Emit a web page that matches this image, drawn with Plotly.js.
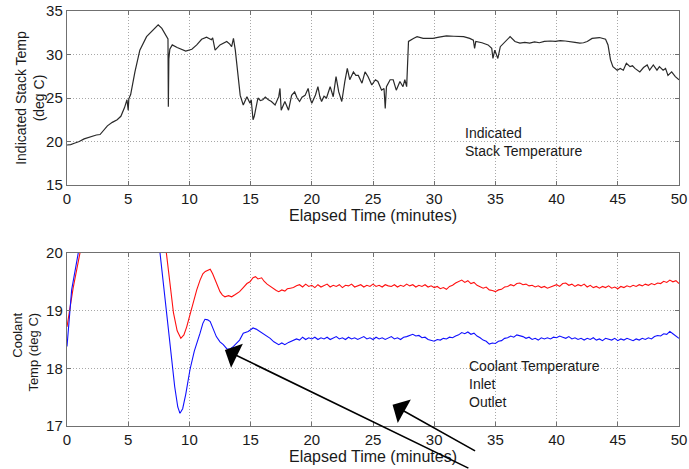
<!DOCTYPE html>
<html>
<head>
<meta charset="utf-8">
<script src="https://cdn.plot.ly/plotly-3.0.1.min.js"></script>
<style>html,body{margin:0;padding:0;background:#fff;}#chart{width:689px;height:469px;}</style>
</head>
<body>
<div id="chart"></div>
<script>
// ---- Top panel: indicated stack temperature ----
const stackTime = [0,0.3,0.6,1.0,1.4,1.9,2.4,2.7,3.0,3.3,3.7,4.1,4.4,4.7,4.9,5.0,5.05,5.2,5.55,5.95,6.5,7.05,7.45,7.75,8.15,8.25,8.28,8.32,8.4,8.6,9.0,9.3,9.7,10.2,10.6,11.0,11.4,11.8,11.9,12.1,12.5,13.05,13.3,13.45,13.6,13.75,14.0,14.15,14.4,14.7,14.95,15.05,15.2,15.3,15.6,15.8,16.0,16.2,16.45,16.7,17.0,17.3,17.4,17.5,17.8,18.1,18.35,18.6,18.8,19.0,19.2,19.45,19.7,19.85,20.0,20.3,20.5,20.65,20.8,21.0,21.2,21.5,21.75,21.98,22.2,22.45,22.7,22.9,23.1,23.4,23.6,23.8,24.1,24.35,24.6,24.9,25.2,25.4,25.7,25.9,26.0,26.1,26.4,26.65,26.9,27.2,27.45,27.6,27.75,27.9,28.3,28.6,29.1,29.65,29.9,30.4,31.0,31.6,32.4,32.9,33.2,33.3,33.4,33.9,34.4,34.7,34.8,34.95,35.2,35.4,35.8,36.2,36.6,37.0,37.4,37.8,38.2,38.6,39.0,39.5,39.9,40.3,40.7,41.1,41.5,41.9,42.2,42.5,42.9,43.5,44.0,44.2,44.4,44.6,44.95,45.2,45.45,45.7,46.0,46.2,46.4,46.8,47.1,47.4,47.6,47.9,48.2,48.4,48.7,48.9,49.1,49.4,49.7,50.0];
const stackTemp = [19.6,19.65,19.8,20.0,20.3,20.55,20.75,20.8,21.3,21.8,22.2,22.5,22.9,23.9,24.8,23.6,24.9,25.4,28.0,30.5,32.05,32.8,33.4,33.0,31.9,31.8,24.0,29.5,30.6,31.1,30.8,30.6,30.4,30.6,31.1,31.75,32.0,31.7,31.9,30.5,31.1,31.5,31.2,30.9,31.85,30.5,27.1,25.3,24.2,25.15,24.4,24.8,22.5,22.9,25.0,24.7,24.8,25.1,24.8,24.6,24.2,25.15,26.1,23.6,24.6,23.6,25.3,25.7,25.0,24.6,25.1,25.3,26.1,25.0,24.4,25.35,26.3,25.2,24.6,25.2,25.0,26.3,25.15,27.45,25.7,24.6,26.9,28.4,27.1,28.0,27.6,27.6,26.7,28.0,27.45,26.5,27.1,26.9,25.9,26.1,23.8,26.3,27.1,27.1,25.9,26.9,26.3,27.1,26.3,31.5,31.85,32.05,31.85,31.85,31.85,32.0,32.15,32.1,32.05,31.85,31.65,30.7,31.5,31.35,31.1,30.7,29.55,30.5,29.55,30.9,31.5,32.05,31.5,31.3,31.4,31.3,31.45,31.35,31.5,31.55,31.5,31.6,31.55,31.5,31.4,31.3,31.35,31.5,31.85,31.95,31.75,31.1,29.4,28.6,28.2,28.4,28.2,29.0,28.6,28.7,28.4,28.0,28.5,28.8,28.2,28.8,28.2,28.6,28.2,28.4,27.6,28.0,27.45,27.1];

// ---- Bottom panel: coolant temperatures ----
const steadyTime = [18.5,18.75,19,19.25,19.5,19.75,20,20.25,20.5,20.75,21,21.25,21.5,21.75,22,22.25,22.5,22.75,23,23.25,23.5,23.75,24,24.25,24.5,24.75,25,25.25,25.5,25.75,26,26.25,26.5,26.75,27,27.25,27.5,27.75,28,28.25,28.5,28.75,29,29.25,29.5,29.75,30,30.25,30.5,30.75,31,31.25,31.5,31.75,32,32.25,32.5,32.75,33,33.25,33.5,33.75,34,34.25,34.5,34.75,35,35.25,35.5,35.75,36,36.25,36.5,36.75,37,37.25,37.5,37.75,38,38.25,38.5,38.75,39,39.25,39.5,39.75,40,40.25,40.5,40.75,41,41.25,41.5,41.75,42,42.25,42.5,42.75,43,43.25,43.5,43.75,44,44.25,44.5,44.75,45,45.25,45.5,45.75,46,46.25,46.5,46.75,47,47.25,47.5,47.75,48,48.25,48.5,48.75,49,49.25,49.5,49.75,50];

const redEarlyTime = [0,0.5,1.06,1.5,2.5,7.0,7.8,8.14,8.4,8.7,9.0,9.3,9.55,9.78,10.05,10.3,10.6,10.87,11.1,11.3,11.5,11.7,11.9,12.1,12.3,12.5,12.7,12.9,13.2,13.45,13.75,14.1,14.4,14.7,14.95,15.2,15.4,15.6,15.9,16.1,16.35,16.6,16.85,17.1,17.3,17.55,17.8,18.0,18.25];
const redEarlyTemp = [18.72,19.39,20.0,20.6,22.0,22.0,20.6,20.0,19.52,18.96,18.65,18.52,18.58,18.72,18.93,19.13,19.36,19.53,19.64,19.68,19.70,19.72,19.64,19.53,19.42,19.33,19.27,19.24,19.26,19.24,19.28,19.33,19.40,19.47,19.50,19.57,19.59,19.55,19.57,19.51,19.46,19.42,19.38,19.35,19.33,19.36,19.34,19.38,19.39];
const redSteadyTemp = [19.40,19.43,19.45,19.41,19.46,19.42,19.44,19.40,19.45,19.41,19.44,19.46,19.41,19.44,19.42,19.45,19.40,19.44,19.43,19.46,19.41,19.43,19.45,19.41,19.44,19.42,19.46,19.42,19.44,19.41,19.45,19.43,19.42,19.45,19.41,19.44,19.42,19.46,19.43,19.45,19.41,19.44,19.42,19.45,19.41,19.43,19.40,19.42,19.38,19.40,19.37,19.42,19.44,19.48,19.50,19.53,19.49,19.52,19.47,19.49,19.44,19.42,19.39,19.41,19.36,19.35,19.33,19.36,19.37,19.41,19.42,19.45,19.43,19.47,19.48,19.45,19.46,19.43,19.44,19.41,19.43,19.40,19.42,19.39,19.41,19.43,19.45,19.42,19.47,19.48,19.44,19.46,19.42,19.45,19.43,19.46,19.41,19.44,19.40,19.42,19.39,19.42,19.40,19.43,19.39,19.41,19.38,19.42,19.40,19.43,19.41,19.44,19.42,19.45,19.43,19.46,19.44,19.47,19.45,19.48,19.47,19.51,19.49,19.53,19.50,19.52,19.47];

const blueEarlyTime = [0,0.38,0.92,1.3,2.5,6.5,7.3,7.6,7.9,8.2,8.5,8.8,9.05,9.23,9.45,9.7,10.05,10.4,10.87,11.1,11.27,11.5,11.7,11.95,12.2,12.5,12.77,13.05,13.3,13.6,13.86,14.1,14.4,14.8,15.0,15.2,15.45,15.75,16.0,16.3,16.6,16.9,17.1,17.3,17.55,17.8,18.1,18.35];
const blueEarlyTemp = [18.38,19.36,20.0,20.6,22.0,22.0,20.6,20.0,19.42,18.84,18.26,17.68,17.33,17.22,17.3,17.55,17.98,18.3,18.61,18.78,18.85,18.84,18.81,18.68,18.55,18.46,18.41,18.34,18.33,18.38,18.44,18.49,18.61,18.64,18.67,18.70,18.68,18.64,18.60,18.56,18.52,18.46,18.43,18.41,18.44,18.41,18.45,18.47];
const blueSteadyTemp = [18.48,18.51,18.49,18.54,18.50,18.53,18.51,18.54,18.50,18.53,18.51,18.54,18.50,18.52,18.55,18.51,18.53,18.50,18.54,18.51,18.53,18.50,18.52,18.55,18.51,18.53,18.50,18.54,18.51,18.53,18.50,18.52,18.55,18.51,18.53,18.50,18.54,18.55,18.57,18.59,18.56,18.57,18.53,18.54,18.50,18.49,18.47,18.50,18.49,18.52,18.51,18.54,18.53,18.56,18.58,18.62,18.60,18.63,18.59,18.61,18.56,18.53,18.49,18.47,18.42,18.44,18.43,18.47,18.48,18.52,18.53,18.56,18.54,18.58,18.57,18.55,18.52,18.54,18.50,18.52,18.49,18.53,18.51,18.53,18.51,18.54,18.53,18.56,18.54,18.52,18.55,18.51,18.53,18.50,18.52,18.49,18.52,18.50,18.53,18.49,18.51,18.48,18.52,18.50,18.49,18.52,18.48,18.51,18.49,18.52,18.50,18.48,18.51,18.49,18.52,18.50,18.53,18.51,18.55,18.57,18.56,18.60,18.59,18.64,18.60,18.56,18.52];

const xTicks = [0,5,10,15,20,25,30,35,40,45,50];
const xTitle = 'Elapsed Time (minutes)';
const topYTitle = 'Indicated Stack Temp<br>(deg C)';
const botYTitle = 'Coolant<br>Temp (deg C)';
const topNote = 'Indicated<br>Stack Temperature';
const botNote = 'Coolant Temperature<br>Inlet<br>Outlet';

const FONT = 'Liberation Sans, Arial, Helvetica, sans-serif';
const TXT = '#1a1a1a';
const GRID = '#a8a8a8';
const FRAME = '#707070';

const traces = [
  {x: stackTime, y: stackTemp, xaxis: 'x', yaxis: 'y', mode: 'lines',
   line: {color: '#2a2a2a', width: 1.2}, hoverinfo: 'skip'},
  {x: redEarlyTime.concat(steadyTime), y: redEarlyTemp.concat(redSteadyTemp), xaxis: 'x2', yaxis: 'y2', mode: 'lines',
   line: {color: '#ff1010', width: 1.1}, hoverinfo: 'skip'},
  {x: blueEarlyTime.concat(steadyTime), y: blueEarlyTemp.concat(blueSteadyTemp), xaxis: 'x2', yaxis: 'y2', mode: 'lines',
   line: {color: '#1010ff', width: 1.1}, hoverinfo: 'skip'}
];

function xax(anchor) {
  return {anchor: anchor, domain: [0, 1], range: [0, 50], tickvals: xTicks,
    showgrid: true, gridcolor: GRID, griddash: '1px,2px', gridwidth: 1,
    zeroline: false, showline: true, linecolor: FRAME, linewidth: 1.2, mirror: 'ticks',
    ticks: 'inside', ticklen: 4, tickcolor: FRAME,
    tickfont: {family: FONT, size: 15, color: TXT},
    title: {text: xTitle, font: {family: FONT, size: 16, color: TXT}, standoff: 0}};
}
function yax(anchor, domain, range, ticks) {
  return {anchor: anchor, domain: domain, range: range, tickvals: ticks,
    showgrid: true, gridcolor: GRID, griddash: '1px,2px', gridwidth: 1,
    zeroline: false, showline: true, linecolor: FRAME, linewidth: 1.2, mirror: 'ticks',
    ticks: 'inside', ticklen: 4, tickcolor: FRAME,
    tickfont: {family: FONT, size: 15, color: TXT}};
}

const layout = {
  width: 689, height: 469,
  margin: {l: 67, r: 10, t: 11, b: 43},
  paper_bgcolor: '#ffffff', plot_bgcolor: '#ffffff',
  showlegend: false,
  font: {family: FONT, color: TXT},
  xaxis: xax('y'),
  xaxis2: xax('y2'),
  yaxis: yax('x', [0.5807, 1], [15, 35], [15,20,25,30,35]),
  yaxis2: yax('x2', [0, 0.4169], [17, 20], [17,18,19,20]),
  annotations: [
    {xref: 'paper', yref: 'paper', x: -0.061, y: 0.79, xanchor: 'center', yanchor: 'middle',
     textangle: -90, align: 'center', text: topYTitle, showarrow: false,
     font: {family: FONT, size: 14, color: TXT}},
    {xref: 'paper', yref: 'paper', x: -0.0685, y: 0.177, xanchor: 'center', yanchor: 'middle',
     textangle: -90, align: 'right', text: botYTitle, showarrow: false,
     font: {family: FONT, size: 13, color: TXT}},
    {xref: 'x', yref: 'y', x: 32.35, y: 19.9, xanchor: 'left', yanchor: 'middle', align: 'left',
     text: topNote, showarrow: false, font: {family: FONT, size: 14, color: TXT}},
    {xref: 'x2', yref: 'y2', x: 32.7, y: 17.72, xanchor: 'left', yanchor: 'middle', align: 'left',
     text: botNote, showarrow: false, font: {family: FONT, size: 14, color: TXT}},
    {xref: 'x2', yref: 'y2', x: 12.9, y: 18.32, text: '', showarrow: true,
     ax: 245, ay: 119, arrowhead: 1, arrowsize: 2.8, arrowwidth: 1.6, arrowcolor: '#000'},
    {xref: 'x2', yref: 'y2', x: 26.6, y: 17.37, text: '', showarrow: true,
     ax: 84, ay: 47, arrowhead: 1, arrowsize: 2.8, arrowwidth: 1.6, arrowcolor: '#000'}
  ]
};

Plotly.newPlot('chart', traces, layout, {staticPlot: true, displayModeBar: false});
</script>
</body>
</html>
